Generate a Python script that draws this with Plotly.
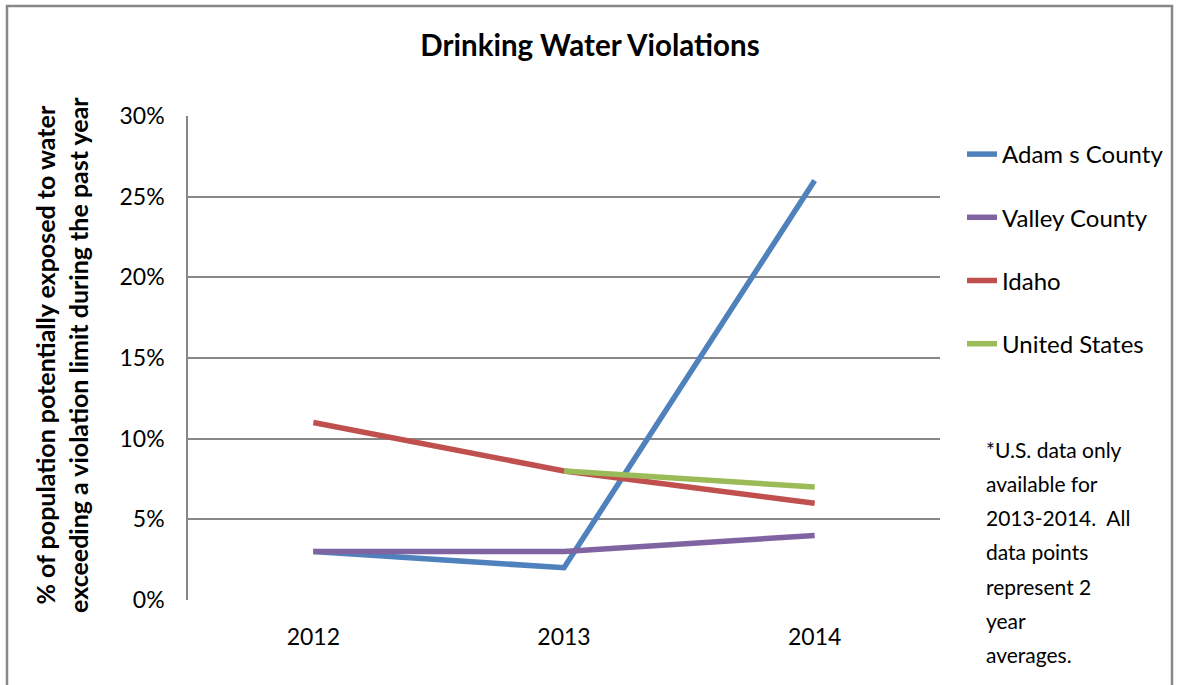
import plotly.graph_objects as go

years = ["2012", "2013", "2014"]
adams = [3, 2, 26]
valley = [3, 3, 4]
idaho = [11, 8, 6]
us = [None, 8, 7]
names = ["Adam s County", "Valley County", "Idaho", "United States"]
colors = ["#4F81BD", "#8064A2", "#C0504D", "#9BBB59"]
ytick_vals = [0, 5, 10, 15, 20, 25, 30]
ytick_text = ["0%", "5%", "10%", "15%", "20%", "25%", "30%"]
note_lines = ["*U.S. data only", "available for", "2013-2014.  All", "data points",
              "represent 2", "year", "averages."]

FONT = "Lato"

fig = go.Figure()
for i, (nm, vals, col) in enumerate(zip(names, [adams, valley, idaho, us], colors)):
    fig.add_trace(go.Scatter(x=years, y=vals, name=nm, mode="lines",
                             line=dict(color=col, width=5.5),
                             legendgroup=str(i), connectgaps=False))

L, R, T, B = 188, 237, 116, 85
W, H = 1177, 685
pw, ph = W - L - R, H - T - B

def px(x):
    return (x - L) / pw

def py(y):
    return (H - B - y) / ph

shapes = [dict(type="rect", xref="paper", yref="paper",
               x0=px(7), x1=px(1172), y0=py(700), y1=py(6),
               line=dict(color="#878787", width=2.5), fillcolor="rgba(0,0,0,0)", layer="below")]

annotations = [dict(text="<b>% of population potentially exposed to water<br>exceeding a violation limit during the past year</b>",
                    xref="paper", yref="paper", x=px(61), y=py(355), textangle=-90,
                    showarrow=False, font=dict(family=FONT, size=25, color="black"),
                    xanchor="center", yanchor="middle")]
for k, line in enumerate(note_lines):
    annotations.append(dict(text=line, xref="paper", yref="paper",
                            x=px(984), y=py(449 + k * 34.3), xanchor="left", yanchor="middle",
                            showarrow=False, font=dict(family=FONT, size=21, color="black")))

fig.update_layout(
    width=W, height=H,
    margin=dict(l=L, r=R, t=T, b=B, autoexpand=False),
    paper_bgcolor="white", plot_bgcolor="white",
    title=dict(text="<b>Drinking Water Violations</b>", x=590 / W, xanchor="center",
               y=1 - 46 / H, yanchor="middle", font=dict(family=FONT, size=29.5, color="black")),
    font=dict(family=FONT, size=23, color="black"),
    xaxis=dict(type="category", range=[-0.5, 2.5], showgrid=False, showline=False,
               ticks="outside", ticklen=16, tickcolor="rgba(0,0,0,0)",
               tickfont=dict(size=23), zeroline=False),
    yaxis=dict(range=[0, 30], tickvals=ytick_vals, ticktext=ytick_text, showgrid=True,
               gridcolor="#878787", gridwidth=1.5, showline=True, linecolor="#878787",
               linewidth=1.5, ticks="outside", ticklen=17, tickcolor="rgba(0,0,0,0)",
               tickfont=dict(size=23), zeroline=False),
    legend=dict(x=px(962), xanchor="left", y=py(132), yanchor="top",
                font=dict(family=FONT, size=24, color="black"), tracegroupgap=29,
                bgcolor="rgba(0,0,0,0)"),
    shapes=shapes, annotations=annotations,
)

fig.write_html("out.html", config={"displayModeBar": False},
               post_script="document.body.style.margin='0';")
